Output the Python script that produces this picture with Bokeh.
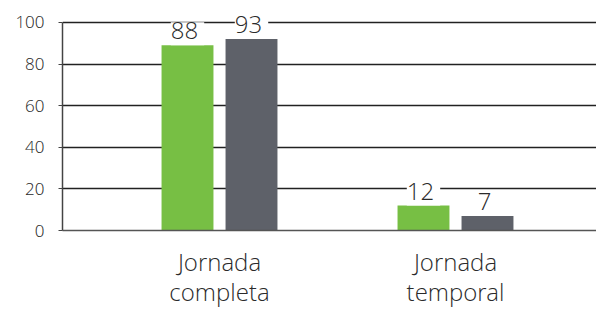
from bokeh.plotting import figure
from bokeh.models import Range1d, FixedTicker, ColumnDataSource
from bokeh.core.properties import value
from bokeh.embed import file_html
from bokeh.resources import INLINE

categories = ["Jornada\ncompleta", "Jornada\ntemporal"]
green_values = [89, 12]
green_labels = ["88", "12"]
grey_values = [92, 7]
grey_labels = ["93", "7"]
y_ticks = [0, 20, 40, 60, 80, 100]

GREEN = "#77BF44"
GREY = "#5E6169"
FONT = "Open Sans Light, Open Sans"
TEXT = "#2a2a2a"

idx = list(range(len(categories)))
off = 0.1356
bw = 0.22

p = figure(width=596, height=310, output_backend="svg", toolbar_location=None,
           x_range=Range1d(-0.6653, 1.5975), y_range=Range1d(0, 103.8),
           min_border_left=62, min_border_right=0, min_border_top=14, min_border_bottom=78)
p.outline_line_color = None
p.background_fill_color = "white"
p.border_fill_color = "white"

src_g = ColumnDataSource(dict(x=[i - off for i in idx], top=green_values, lab=green_labels))
src_k = ColumnDataSource(dict(x=[i + off for i in idx], top=grey_values, lab=grey_labels))

p.vbar(x="x", top="top", width=bw, bottom=0, source=src_g, fill_color=GREEN, line_color=None)
p.vbar(x="x", top="top", width=bw, bottom=0, source=src_k, fill_color=GREY, line_color=None)

for src in (src_g, src_k):
    p.text(x="x", y="top", text="lab", source=src, text_align="center",
           text_baseline="bottom", y_offset=0, text_font=value(FONT),
           text_font_size="24px", text_color=TEXT,
           background_fill_color="white", padding=[0, 6, 0, 6])

# y axis
ya = p.yaxis[0]
ya.ticker = FixedTicker(ticks=y_ticks)
ya.bounds = (0, 100)
ya.axis_line_color = "#444444"
ya.axis_line_width = 1.5
ya.major_tick_line_color = "#444444"
ya.major_tick_in = 0
ya.major_tick_out = 4
ya.minor_tick_line_color = None
ya.major_label_text_font = FONT
ya.major_label_text_font_size = "17px"
ya.major_label_text_color = TEXT
ya.major_label_standoff = 14

# x axis
xa = p.xaxis[0]
xa.ticker = FixedTicker(ticks=idx)
xa.major_label_overrides = {i: c for i, c in zip(idx, categories)}
xa.axis_line_color = "#555555"
xa.axis_line_width = 1.5
xa.major_tick_line_color = None
xa.major_tick_out = 0
xa.major_tick_in = 0
xa.minor_tick_line_color = None
xa.major_label_text_font = FONT
xa.major_label_text_font_size = "24px"
xa.major_label_text_line_height = 0.92
xa.major_label_text_color = TEXT
xa.major_label_standoff = 14

p.xgrid.grid_line_color = None
p.ygrid.ticker = FixedTicker(ticks=y_ticks[1:])
p.ygrid.grid_line_color = "#222222"
p.ygrid.grid_line_width = 1.3
p.ygrid.level = "underlay"

open("out.html", "w").write(file_html(p, INLINE))
